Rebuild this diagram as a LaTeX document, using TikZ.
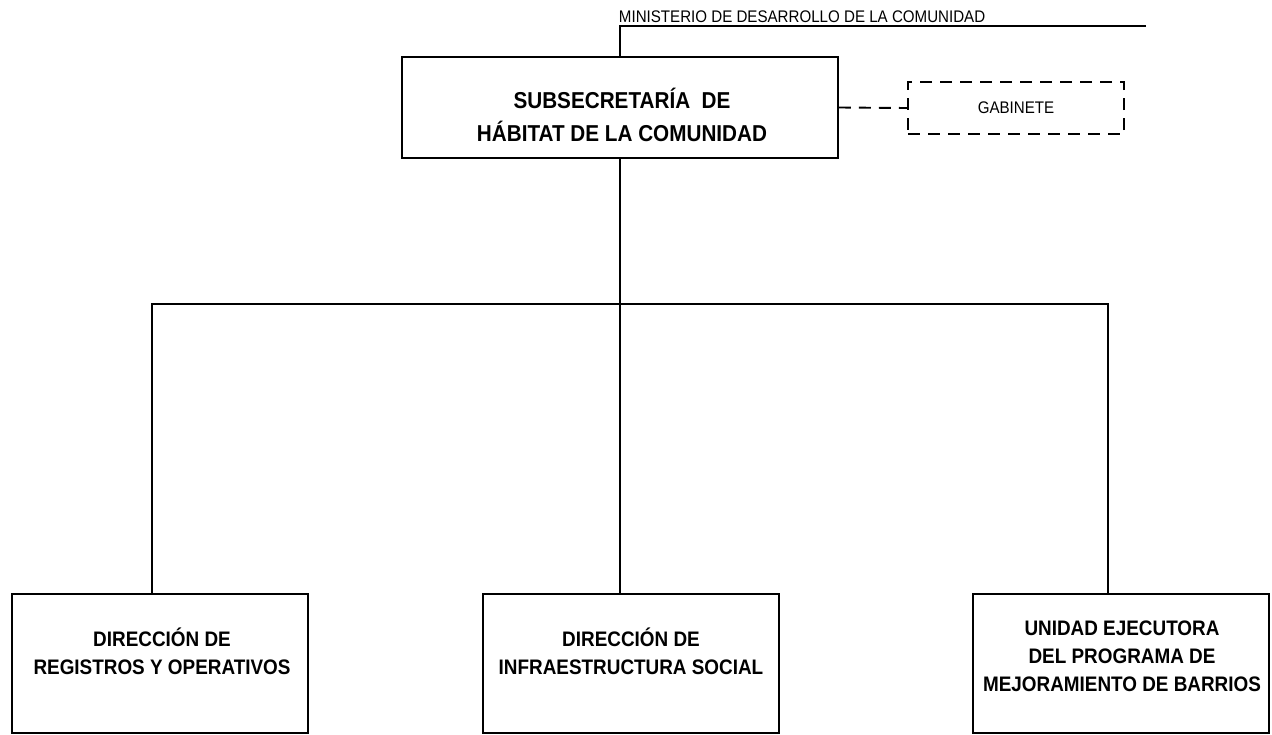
\documentclass[tikz,border=0pt]{standalone}
\usepackage{fontspec}
\setmainfont{Liberation Sans}[FakeStretch=0.9]
\usepackage{tikz}
\usetikzlibrary{calc}

\begin{document}
\begin{tikzpicture}[x=1pt, y=-1pt, line width=1.9pt,
        unitbox/.style={draw, rectangle, minimum width=296pt, minimum height=139pt, inner sep=0pt},
        boxtext/.style={align=center, inner sep=0pt, font=\fontsize{21}{28}\selectfont\bfseries},
        plaintext/.style={inner sep=0pt, font=\fontsize{16.8}{20}\selectfont}]
        \useasboundingbox (0,0) rectangle (1272,734);

        % top level
        \node[draw, minimum width=436pt, minimum height=101pt, inner sep=0pt] (SUB) at (620,107.5) {};
        \node[boxtext, font=\fontsize{23}{33}\selectfont\bfseries] (SUBt) at (622,115) {SUBSECRETARÍA\ \ DE\\HÁBITAT DE LA COMUNIDAD};
        \node[plaintext, anchor=base west] (MIN) at (618,22) {MINISTERIO DE DESARROLLO DE LA COMUNIDAD};
        \node[draw, dash pattern=on 12pt off 8pt, minimum width=216pt, minimum height=52pt, inner sep=0pt] (GAB) at (1016,108) {};
        \node[plaintext] (GABt) at (1016,108) {GABINETE};

        % bottom level
        \node[unitbox] (REG) at (160,663.5) {};
        \node[boxtext] (REGt) at (162,651.5) {DIRECCIÓN DE\\REGISTROS Y OPERATIVOS};
        \node[unitbox] (INF) at (631,663.5) {};
        \node[boxtext] (INFt) at (631,651.5) {DIRECCIÓN DE\\INFRAESTRUCTURA SOCIAL};
        \node[unitbox] (UEP) at (1121,663.5) {};
        \node[boxtext] (UEPt) at (1122,656) {UNIDAD EJECUTORA\\DEL PROGRAMA DE\\MEJORAMIENTO DE BARRIOS};

        \coordinate (MINend) at (1146,26);
        \coordinate (BUS) at (620,304);
        \coordinate (BUSl) at (152,304);
        \coordinate (BUSr) at (1108,304);

        \draw (MINend) -- (SUB.north |- MINend) -- (SUB.north);
        \draw[dash pattern=on 12pt off 8pt] (SUB.east) -- (GAB.west);
        \draw (SUB.south) -- (BUS);
        \draw (BUSl |- REG.north) -- (BUSl) -- (BUSr) -- (BUSr |- UEP.north);
        \draw (BUS) -- (BUS |- INF.north);
    \end{tikzpicture}
\end{document}
